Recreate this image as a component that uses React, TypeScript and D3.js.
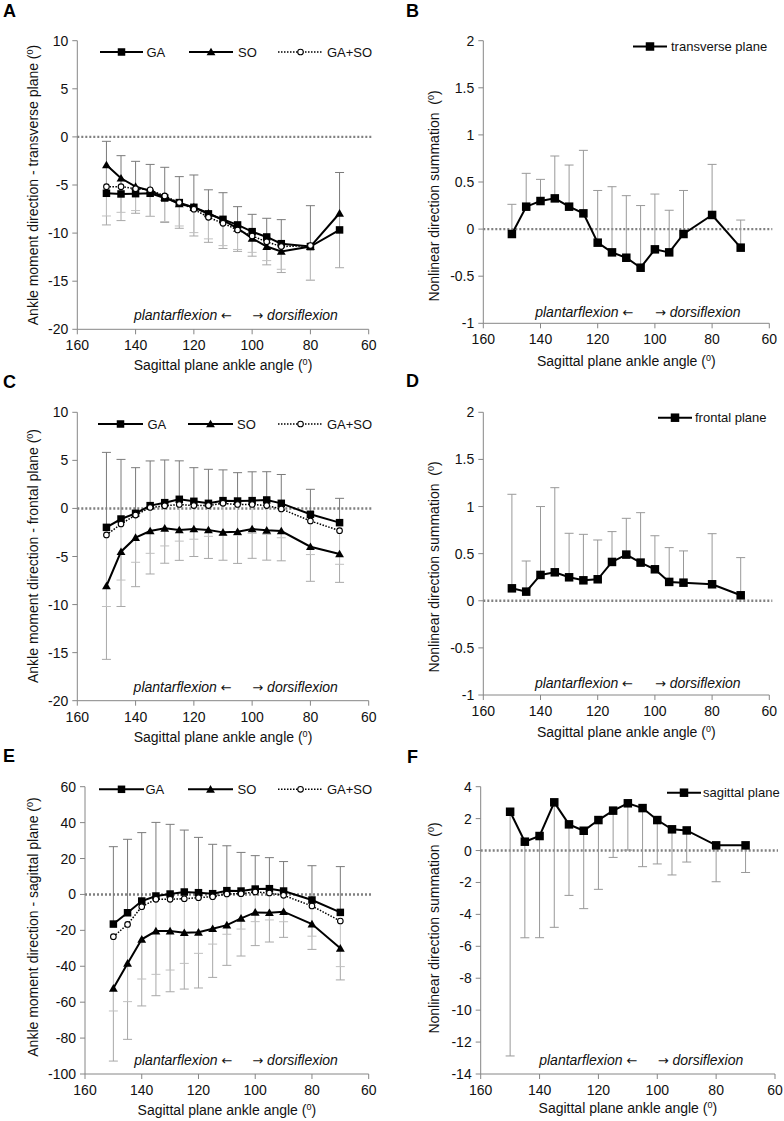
import React from "react";
import * as d3 from "d3";

// ---------- DATA ----------
const angles = [150, 145, 140, 135, 130, 125, 120, 115, 110, 105, 100, 95, 90, 80, 70];
const xTicks = [160, 140, 120, 100, 80, 60];

// Panel A – transverse plane
const A_GA = [-5.86, -5.93, -5.9, -5.86, -6.35, -6.83, -7.32, -8.0, -8.57, -9.15, -9.85, -10.4, -11.1, -11.4, -9.67];
const A_GA_err = [5.4, 3.98, 3.36, 3.0, 3.19, 2.7, 3.36, 2.5, 2.77, 1.9, 1.8, 1.94, 2.5, 4.25, 5.97];
const A_SO = [-2.92, -4.3, -5.17, -5.6, -6.28, -6.97, -7.3, -7.94, -8.64, -9.5, -10.54, -11.4, -11.9, -11.4, -7.94];
const A_SO_err = [6.23, 4.4, 2.77, 2.66, 2.62, 2.53, 3.0, 3.02, 2.96, 2.4, 1.86, 1.9, 2.2, 3.5, 5.66];
const A_GASO = [-5.17, -5.17, -5.38, -5.5, -6.14, -6.83, -7.52, -8.36, -8.98, -9.67, -10.3, -10.9, -11.4, -11.3, null];
const A_GASO_err = [3.05, 2.67, 2.28, 2.76, 2.66, 2.43, 2.43, 2.24, 2.32, 2.03, 1.7, 1.96, 2.36, 3.6, null];
const A_yTicks = [10, 5, 0, -5, -10, -15, -20];

// Panel B – nonlinear summation, transverse plane
const B_vals = [-0.052, 0.238, 0.298, 0.326, 0.238, 0.167, -0.144, -0.247, -0.304, -0.41, -0.215, -0.247, -0.052, 0.15, -0.197];
const B_err = [0.315, 0.354, 0.23, 0.45, 0.442, 0.669, 0.554, 0.697, 0.659, 0.66, 0.587, 0.447, 0.462, 0.537, 0.293];
const BD_yTicks = [2, 1.5, 1, 0.5, 0, -0.5, -1];

// Panel C – frontal plane
const C_GA = [-1.97, -1.1, -0.51, 0.29, 0.6, 0.95, 0.74, 0.53, 0.81, 0.77, 0.81, 0.88, 0.53, -0.61, -1.48];
const C_GA_err = [7.8, 6.2, 4.75, 4.65, 4.44, 4.0, 3.5, 3.54, 3.2, 2.95, 3.0, 2.94, 3.0, 2.6, 2.53];
const C_SO = [-8.07, -4.5, -3.04, -2.35, -2.07, -2.24, -2.14, -2.24, -2.49, -2.42, -2.14, -2.28, -2.35, -3.98, -4.74];
const C_SO_err = [7.63, 5.7, 5.1, 4.47, 3.63, 3.16, 2.86, 2.96, 2.9, 3.3, 3.05, 3.1, 3.1, 3.6, 2.95];
const C_GASO = [-2.76, -1.62, -0.69, 0.1, 0.27, 0.41, 0.3, 0.3, 0.53, 0.41, 0.41, 0.3, -0.05, -1.3, -2.31];
const C_GASO_err = [7.44, 5.83, 4.91, 4.77, 4.17, 3.81, 3.5, 3.2, 3.3, 3.2, 3.0, 3.0, 3.0, 3.5, 3.5];
const C_yTicks = [10, 5, 0, -5, -10, -15, -20];

// Panel D – nonlinear summation, frontal plane
const D_vals = [0.132, 0.097, 0.274, 0.302, 0.249, 0.217, 0.228, 0.412, 0.49, 0.405, 0.334, 0.2, 0.192, 0.175, 0.058];
const D_err = [0.998, 0.325, 0.726, 0.898, 0.467, 0.488, 0.417, 0.322, 0.385, 0.53, 0.356, 0.364, 0.337, 0.537, 0.4];

// Panel E – sagittal plane
const E_GA = [-16.5, -10.2, -3.67, -0.88, 0.23, 1.35, 0.97, 0.42, 2.1, 1.9, 3.0, 3.2, 1.9, -3.1, -10.0];
const E_GA_err = [43.1, 40.9, 38.1, 41.0, 38.8, 34.5, 30.8, 27.5, 25.0, 21.5, 18.6, 17.3, 16.4, 19.1, 25.5];
const E_SO = [-52.3, -38.4, -25.0, -20.4, -20.4, -21.3, -21.1, -19.1, -17.1, -13.3, -10.0, -10.2, -9.6, -16.5, -30.0];
const E_SO_err = [40.5, 42.3, 37.1, 36.0, 33.8, 31.4, 31.0, 27.1, 22.4, 21.0, 18.5, 16.3, 14.3, 14.1, 17.6];
const E_GASO = [-23.5, -16.7, -6.8, -2.7, -2.7, -2.4, -1.8, -1.25, 0.23, 0.42, 1.35, 0.8, -0.5, -6.45, -14.8];
const E_GASO_err = [41.4, 43.0, 40.3, 41.8, 39.4, 36.0, 31.0, 26.4, 22.4, 19.7, 16.5, 15.0, 14.7, 16.8, 25.4];
const E_yTicks = [60, 40, 20, 0, -20, -40, -60, -80, -100];

// Panel F – nonlinear summation, sagittal plane
const F_vals = [2.43, 0.555, 0.91, 3.02, 1.64, 1.24, 1.91, 2.5, 2.96, 2.66, 1.91, 1.33, 1.26, 0.325, 0.325];
const F_err = [15.3, 6.02, 6.37, 7.83, 4.45, 4.88, 4.34, 2.93, 2.93, 3.67, 2.75, 2.86, 1.98, 2.28, 1.7];
const F_yTicks = [4, 2, 0, -2, -4, -6, -8, -10, -12, -14];

const seriesNames = ["GA", "SO", "GA+SO"];

// ---------- DRAWING ----------
const FONT = "'Liberation Sans', Arial, sans-serif";
const ARROWFONT = "'DejaVu Sans', sans-serif";
const AXIS = "#868686";
const FS = 14;
const LEGFS = 13;

type Series = {
  values: (number | null)[];
  err: (number | null)[];
  dir: "up" | "down";
  marker: "square" | "triangle" | "circle";
  dashed?: boolean;
  errColor: string;
  markerSize: number;
};

type PanelProps = {
  x0: number; x1: number; yTop: number; yBot: number;
  yDomain: [number, number];
  yTicks: number[];
  series: Series[];
  letter: string; letterX: number; letterY: number;
  yTitle: string; yTitleX: number; yTitleY: number;
  xTitleY: number;
  legend: { x1: number; x2: number; tx: number; y: number; label: string; idx: number }[];
  ann: { y: number; leftEnd: number; rightX: number };
  fmt: (v: number) => string;
};

function Marker({ kind, x, y, size }: { kind: string; x: number; y: number; size: number }) {
  if (kind === "square") {
    return <rect x={x - size / 2} y={y - size / 2} width={size} height={size} fill="#000" />;
  }
  if (kind === "triangle") {
    const p = d3.symbol(d3.symbolTriangle, size * size * 0.6)();
    return <path d={p || ""} transform={`translate(${x},${y + 0.8})`} fill="#000" />;
  }
  return <circle cx={x} cy={y} r={size / 2} fill="#fff" stroke="#000" strokeWidth={1.1} />;
}

function Panel(p: PanelProps) {
  const x = d3.scaleLinear().domain([160, 60]).range([p.x0, p.x1]);
  const y = d3.scaleLinear().domain(p.yDomain).range([p.yBot, p.yTop]);
  const line = d3
    .line<[number, number | null]>()
    .defined((d) => d[1] !== null)
    .x((d) => x(d[0]))
    .y((d) => y(d[1] as number));
  const capW = 4.5;
  return (
    <g fontFamily={FONT}>
      <text x={p.letterX} y={p.letterY} fontSize={18} fontWeight="bold">{p.letter}</text>
      {/* zero line */}
      <line x1={p.x0} x2={p.x1 + 3} y1={y(0)} y2={y(0)} stroke="#808080" strokeWidth={2.4} strokeDasharray="2,2" />
      {/* axes */}
      <line x1={p.x0} x2={p.x0} y1={p.yTop} y2={p.yBot} stroke={AXIS} strokeWidth={1} />
      <line x1={p.x0} x2={p.x1} y1={p.yBot} y2={p.yBot} stroke={AXIS} strokeWidth={1} />
      {p.yTicks.map((t) => (
        <g key={"y" + t}>
          <line x1={p.x0 - 5} x2={p.x0} y1={y(t)} y2={y(t)} stroke={AXIS} />
          <text x={p.x0 - 9} y={y(t) + 5} fontSize={FS} textAnchor="end" fill="#111">{p.fmt(t)}</text>
        </g>
      ))}
      {xTicks.map((t) => (
        <g key={"x" + t}>
          <line x1={x(t)} x2={x(t)} y1={p.yBot} y2={p.yBot + 5} stroke={AXIS} />
          <text x={x(t)} y={p.yBot + 21} fontSize={FS} textAnchor="middle" fill="#111">{t}</text>
        </g>
      ))}
      {/* axis titles */}
      <text x={(p.x0 + p.x1) / 2} y={p.xTitleY} fontSize={FS} textAnchor="middle" fill="#111">
        Sagittal plane ankle angle (<tspan fontSize={9} dy={-5}>0</tspan><tspan dy={5}>)</tspan>
      </text>
      <text
        transform={`translate(${p.yTitleX},${p.yTitleY}) rotate(-90)`}
        fontSize={FS}
        textAnchor="middle"
        fill="#111"
        style={{ whiteSpace: "pre" }}
      >
        {p.yTitle}(<tspan fontSize={9} dy={-5}>0</tspan><tspan dy={5}>)</tspan>
      </text>
      {/* annotation */}
      <text x={p.ann.leftEnd} y={p.ann.y} fontSize={FS} fontStyle="italic" fill="#111" textAnchor="end">
        plantarflexion <tspan fontFamily={ARROWFONT} fontStyle="normal" fontSize={13}>←</tspan>
      </text>
      <text x={p.ann.rightX} y={p.ann.y} fontSize={FS} fontStyle="italic" fill="#111">
        <tspan fontFamily={ARROWFONT} fontStyle="normal" fontSize={13}>→</tspan> dorsiflexion
      </text>
      {/* error bars */}
      {p.series.map((s, si) => (
        <g key={"e" + si} stroke={s.errColor} strokeWidth={1}>
          {angles.map((a, i) => {
            const v = s.values[i];
            const e = s.err[i];
            if (v === null || e === null) return null;
            const end = s.dir === "up" ? v + e : v - e;
            return (
              <g key={i}>
                <line x1={x(a)} x2={x(a)} y1={y(v)} y2={y(end)} />
                <line x1={x(a) - capW} x2={x(a) + capW} y1={y(end)} y2={y(end)} />
              </g>
            );
          })}
        </g>
      ))}
      {/* lines */}
      {p.series.map((s, si) => (
        <path
          key={"l" + si}
          d={line(angles.map((a, i) => [a, s.values[i]] as [number, number | null])) || ""}
          fill="none"
          stroke="#000"
          strokeWidth={s.dashed ? 1.5 : 2}
          strokeDasharray={s.dashed ? "1.5,1.5" : undefined}
        />
      ))}
      {/* markers */}
      {p.series.map((s, si) => (
        <g key={"m" + si}>
          {angles.map((a, i) =>
            s.values[i] === null ? null : (
              <Marker key={i} kind={s.marker} x={x(a)} y={y(s.values[i] as number)} size={s.markerSize} />
            )
          )}
        </g>
      ))}
      {/* legend */}
      {p.legend.map((l) => {
        const s = p.series[l.idx];
        return (
          <g key={"lg" + l.label}>
            <line
              x1={l.x1} x2={l.x2} y1={l.y} y2={l.y}
              stroke="#000"
              strokeWidth={s.dashed ? 1.5 : 2}
              strokeDasharray={s.dashed ? "1.5,1.5" : undefined}
            />
            <Marker kind={s.marker} x={(l.x1 + l.x2) / 2} y={l.y} size={s.markerSize} />
            <text x={l.tx} y={l.y + 4.7} fontSize={LEGFS} fill="#111">{l.label}</text>
          </g>
        );
      })}
    </g>
  );
}

function triple(ga: any[], gaE: any[], so: any[], soE: any[], gs: any[], gsE: any[]): Series[] {
  return [
    { values: ga, err: gaE, dir: "up", marker: "square", errColor: "#7a7a7a", markerSize: 7.5 },
    { values: so, err: soE, dir: "down", marker: "triangle", errColor: "#a8a8a8", markerSize: 7.5 },
    { values: gs, err: gsE, dir: "down", marker: "circle", dashed: true, errColor: "#c0c0c0", markerSize: 5.6 },
  ];
}

function single(v: number[], e: number[], dir: "up" | "down"): Series[] {
  return [{ values: v, err: e, dir, marker: "square", errColor: "#999999", markerSize: 8.5 }];
}

const fmtInt = (v: number) => String(v);
const fmtDec = (v: number) => String(v);

function tripleLegend(y: number, xs: number[][]) {
  return seriesNames.map((n, i) => ({ x1: xs[i][0], x2: xs[i][1], tx: xs[i][2], y, label: n, idx: i }));
}

export default function App() {
  return (
    <svg width={784} height={1121} style={{ position: "absolute", left: 0, top: 0, background: "#fff" }}>
      <rect width={784} height={1121} fill="#fff" />
      <Panel
        x0={77.3} x1={368.7} yTop={40.7} yBot={329.3}
        yDomain={[-20, 10]} yTicks={A_yTicks}
        series={triple(A_GA, A_GA_err, A_SO, A_SO_err, A_GASO, A_GASO_err)}
        letter="A" letterX={3} letterY={17}
        yTitle="Ankle moment direction - transverse plane " yTitleX={38} yTitleY={185}
        xTitleY={370}
        legend={tripleLegend(52, [[100, 143, 146.5], [189, 233, 238], [278, 323, 327]])}
        ann={{ y: 320, leftEnd: 232, rightX: 252.3 }}
        fmt={fmtInt}
      />
      <Panel
        x0={483.3} x1={769.3} yTop={40.7} yBot={323.3}
        yDomain={[-1, 2]} yTicks={BD_yTicks}
        series={single(B_vals, B_err, "up")}
        letter="B" letterX={406} letterY={17}
        yTitle="Nonlinear direction summation  " yTitleX={439} yTitleY={196}
        xTitleY={366}
        legend={[{ x1: 633, x2: 667, tx: 671, y: 46.5, label: "transverse plane", idx: 0 }]}
        ann={{ y: 317, leftEnd: 633.3, rightX: 655 }}
        fmt={fmtDec}
      />
      <Panel
        x0={77.3} x1={368.7} yTop={412.3} yBot={700.7}
        yDomain={[-20, 10]} yTicks={C_yTicks}
        series={triple(C_GA, C_GA_err, C_SO, C_SO_err, C_GASO, C_GASO_err)}
        letter="C" letterX={3} letterY={388}
        yTitle="Ankle moment direction - frontal plane " yTitleX={38} yTitleY={556}
        xTitleY={742}
        legend={tripleLegend(424, [[98, 143, 147.5], [188, 233, 237], [278, 323, 327]])}
        ann={{ y: 691.5, leftEnd: 231.7, rightX: 252.3 }}
        fmt={fmtInt}
      />
      <Panel
        x0={483.3} x1={769.3} yTop={412.3} yBot={695}
        yDomain={[-1, 2]} yTicks={BD_yTicks}
        series={single(D_vals, D_err, "up")}
        letter="D" letterX={406} letterY={387}
        yTitle="Nonlinear direction summation  " yTitleX={439} yTitleY={567}
        xTitleY={737}
        legend={[{ x1: 658, x2: 692, tx: 695, y: 417.7, label: "frontal plane", idx: 0 }]}
        ann={{ y: 688.3, leftEnd: 633, rightX: 655 }}
        fmt={fmtDec}
      />
      <Panel
        x0={85} x1={368.7} yTop={786.7} yBot={1074}
        yDomain={[-100, 60]} yTicks={E_yTicks}
        series={triple(E_GA, E_GA_err, E_SO, E_SO_err, E_GASO, E_GASO_err)}
        letter="E" letterX={3} letterY={762}
        yTitle="Ankle moment direction - sagittal plane " yTitleX={38} yTitleY={927}
        xTitleY={1115}
        legend={tripleLegend(789.3, [[99, 144, 145.5], [188, 233, 237.5], [278, 323, 327]])}
        ann={{ y: 1065, leftEnd: 232.3, rightX: 252.3 }}
        fmt={fmtInt}
      />
      <Panel
        x0={480.7} x1={775} yTop={786.7} yBot={1074}
        yDomain={[-14, 4]} yTicks={F_yTicks}
        series={single(F_vals, F_err, "down")}
        letter="F" letterX={407} letterY={763}
        yTitle="Nonlinear direction summation  " yTitleX={439} yTitleY={928}
        xTitleY={1113}
        legend={[{ x1: 667, x2: 701, tx: 703, y: 792.7, label: "sagittal plane", idx: 0 }]}
        ann={{ y: 1065, leftEnd: 637.3, rightX: 657.7 }}
        fmt={fmtInt}
      />
    </svg>
  );
}
